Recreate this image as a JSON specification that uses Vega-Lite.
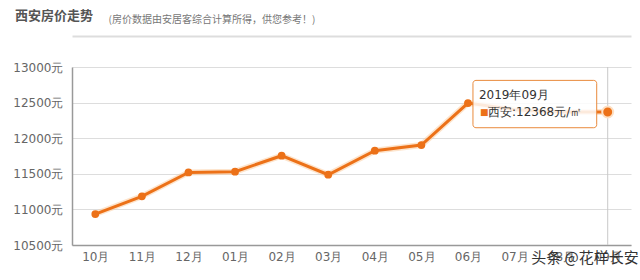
{
  "$schema": "https://vega.github.io/schema/vega-lite/v6.json",
  "width": 559,
  "height": 178,
  "autosize": {"type": "none"},
  "padding": {"left": 72, "top": 67, "right": 9, "bottom": 35},
  "background": "#ffffff",
  "title": {
    "text": "西安房价走势",
    "anchor": "start",
    "frame": "group",
    "dx": -57,
    "dy": 19,
    "offset": 10,
    "font": "Noto Sans CJK SC",
    "fontSize": 13,
    "fontWeight": "bold",
    "color": "#555555"
  },
  "config": {
    "view": {"stroke": null},
    "axis": {"ticks": false, "labelFont": "DejaVu Sans", "labelFontSize": 12, "labelColor": "#666666", "title": null, "labelOverlap": false},
    "axisY": {"labelOverlap": false, "tickCount": 6, "labelPadding": 9, "domainColor": "#999999", "domainWidth": 1.5, "gridColor": "#dddddd", "gridWidth": 1, "labelFlush": false}
  },
  "datasets": {
    "prices": [
      {"month": "10月", "price": 10935},
      {"month": "11月", "price": 11183},
      {"month": "12月", "price": 11520},
      {"month": "01月", "price": 11530},
      {"month": "02月", "price": 11754},
      {"month": "03月", "price": 11487},
      {"month": "04月", "price": 11824},
      {"month": "05月", "price": 11904},
      {"month": "06月", "price": 12494},
      {"month": "07月", "price": 12400},
      {"month": "08月", "price": 12368},
      {"month": "09月", "price": 12368}
    ],
    "one": [{"series": "西安"}]
  },
  "data": {"name": "prices"},
  "resolve": {"axis": {"x": "independent"}},
  "layer": [
    {
      "mark": {"type": "line", "color": "#fbc99a", "strokeWidth": 6, "opacity": 0.5},
      "encoding": {
        "x": {"field": "month", "type": "nominal", "sort": null,
          "scale": {"type": "point", "padding": 0.5, "domain": ["10月","11月","12月","01月","02月","03月","04月","05月","06月","07月","08月","09月"]},
          "axis": {"orient": "bottom", "labelAngle": 0, "labelPadding": 6, "domainColor": "#999999", "domainWidth": 1.5, "grid": false, "labelOverlap": false}},
        "y": {"field": "price", "type": "quantitative", "scale": {"domain": [10500, 13000], "zero": false, "nice": false},
          "axis": {"values": [10500, 11000, 11500, 12000, 12500, 13000], "labelExpr": "datum.value + '元'", "labelOverlap": false}}
      }
    },
    {
      "data": {"name": "one"},
      "mark": {"type": "rule", "color": "#c8c8c8", "strokeWidth": 1},
      "encoding": {
        "x": {
          "datum": "09月",
          "type": "nominal",
          "axis": {"orient": "top", "offset": 31, "labels": false, "domainColor": "#dddddd", "domainWidth": 2, "grid": false,
            "title": "(房价数据由安居客综合计算所得，供您参考！)", "titleX": 36, "titleY": -17, "titleAlign": "left", "titleAnchor": null, "titleBaseline": "middle", "titleAngle": 0,
            "titleFont": "Noto Sans CJK SC", "titleFontSize": 10, "titleFontWeight": "normal", "titleColor": "#777777"}
        }
      }
    },
    {
      "mark": {"type": "line", "color": "#ec7118", "strokeWidth": 3},
      "encoding": {
        "x": {"field": "month", "type": "nominal", "sort": null, "axis": null},
        "y": {"field": "price", "type": "quantitative", "axis": {"values": [10500, 11000, 11500, 12000, 12500, 13000], "labelExpr": "datum.value + '元'", "labelOverlap": false}}
      }
    },
    {
      "transform": [{"filter": "datum.month != '09月' && datum.month != '07月' && datum.month != '08月'"}],
      "mark": {"type": "point", "filled": true, "color": "#ec7118", "size": 60, "opacity": 1},
      "encoding": {
        "x": {"field": "month", "type": "nominal", "sort": null, "axis": null},
        "y": {"field": "price", "type": "quantitative", "axis": {"values": [10500, 11000, 11500, 12000, 12500, 13000], "labelExpr": "datum.value + '元'", "labelOverlap": false}}
      }
    },
    {
      "transform": [{"filter": "datum.month == '09月'"}],
      "mark": {"type": "point", "filled": true, "color": "#ec7118", "size": 120, "opacity": 1, "stroke": "#fde0c4", "strokeWidth": 2},
      "encoding": {
        "x": {"field": "month", "type": "nominal", "sort": null, "axis": null},
        "y": {"field": "price", "type": "quantitative", "axis": {"values": [10500, 11000, 11500, 12000, 12500, 13000], "labelExpr": "datum.value + '元'", "labelOverlap": false}}
      }
    },
    {
      "data": {"name": "one"},
      "mark": {"type": "rect", "fill": "#ffffff", "fillOpacity": 0.85, "stroke": "#e98a3c", "strokeWidth": 1, "cornerRadius": 3, "xOffset": 5, "x2Offset": -11},
      "encoding": {
        "x": {"datum": "06月", "type": "nominal", "axis": null},
        "x2": {"datum": "09月"},
        "y": {"datum": 12812, "type": "quantitative", "axis": {"values": [10500, 11000, 11500, 12000, 12500, 13000], "labelExpr": "datum.value + '元'", "labelOverlap": false}},
        "y2": {"datum": 12147}
      }
    },
    {
      "data": {"name": "one"},
      "mark": {"type": "text", "align": "left", "baseline": "middle", "dx": 11, "font": "DejaVu Sans", "fontSize": 12, "color": "#333333", "text": "2019年09月"},
      "encoding": {
        "x": {"datum": "06月", "type": "nominal", "axis": null},
        "y": {"datum": 12600, "type": "quantitative", "axis": {"values": [10500, 11000, 11500, 12000, 12500, 13000], "labelExpr": "datum.value + '元'", "labelOverlap": false}}
      }
    },
    {
      "data": {"name": "one"},
      "mark": {"type": "text", "align": "left", "baseline": "middle", "dx": 12, "font": "DejaVu Sans", "fontSize": 9, "color": "#ec7118", "text": "■"},
      "encoding": {
        "x": {"datum": "06月", "type": "nominal", "axis": null},
        "y": {"datum": 12368, "type": "quantitative", "axis": {"values": [10500, 11000, 11500, 12000, 12500, 13000], "labelExpr": "datum.value + '元'", "labelOverlap": false}}
      }
    },
    {
      "data": {"name": "one"},
      "mark": {"type": "text", "align": "left", "baseline": "middle", "dx": 20, "font": "DejaVu Sans", "fontSize": 12, "color": "#333333"},
      "encoding": {
        "text": {"value": "西安:12368元/㎡"},
        "x": {"datum": "06月", "type": "nominal", "axis": null},
        "y": {"datum": 12368, "type": "quantitative", "axis": {"values": [10500, 11000, 11500, 12000, 12500, 13000], "labelExpr": "datum.value + '元'", "labelOverlap": false}}
      }
    },
    {
      "data": {"name": "one"},
      "mark": {"type": "text", "align": "right", "baseline": "middle", "dx": 31, "dy": 13, "font": "Noto Sans CJK SC", "fontSize": 15, "color": "#333333", "text": "头条 @花样长安"},
      "encoding": {
        "x": {"datum": "09月", "type": "nominal", "axis": null},
        "y": {"datum": 10500, "type": "quantitative", "axis": {"values": [10500, 11000, 11500, 12000, 12500, 13000], "labelExpr": "datum.value + '元'", "labelOverlap": false}}
      }
    }
  ]
}
